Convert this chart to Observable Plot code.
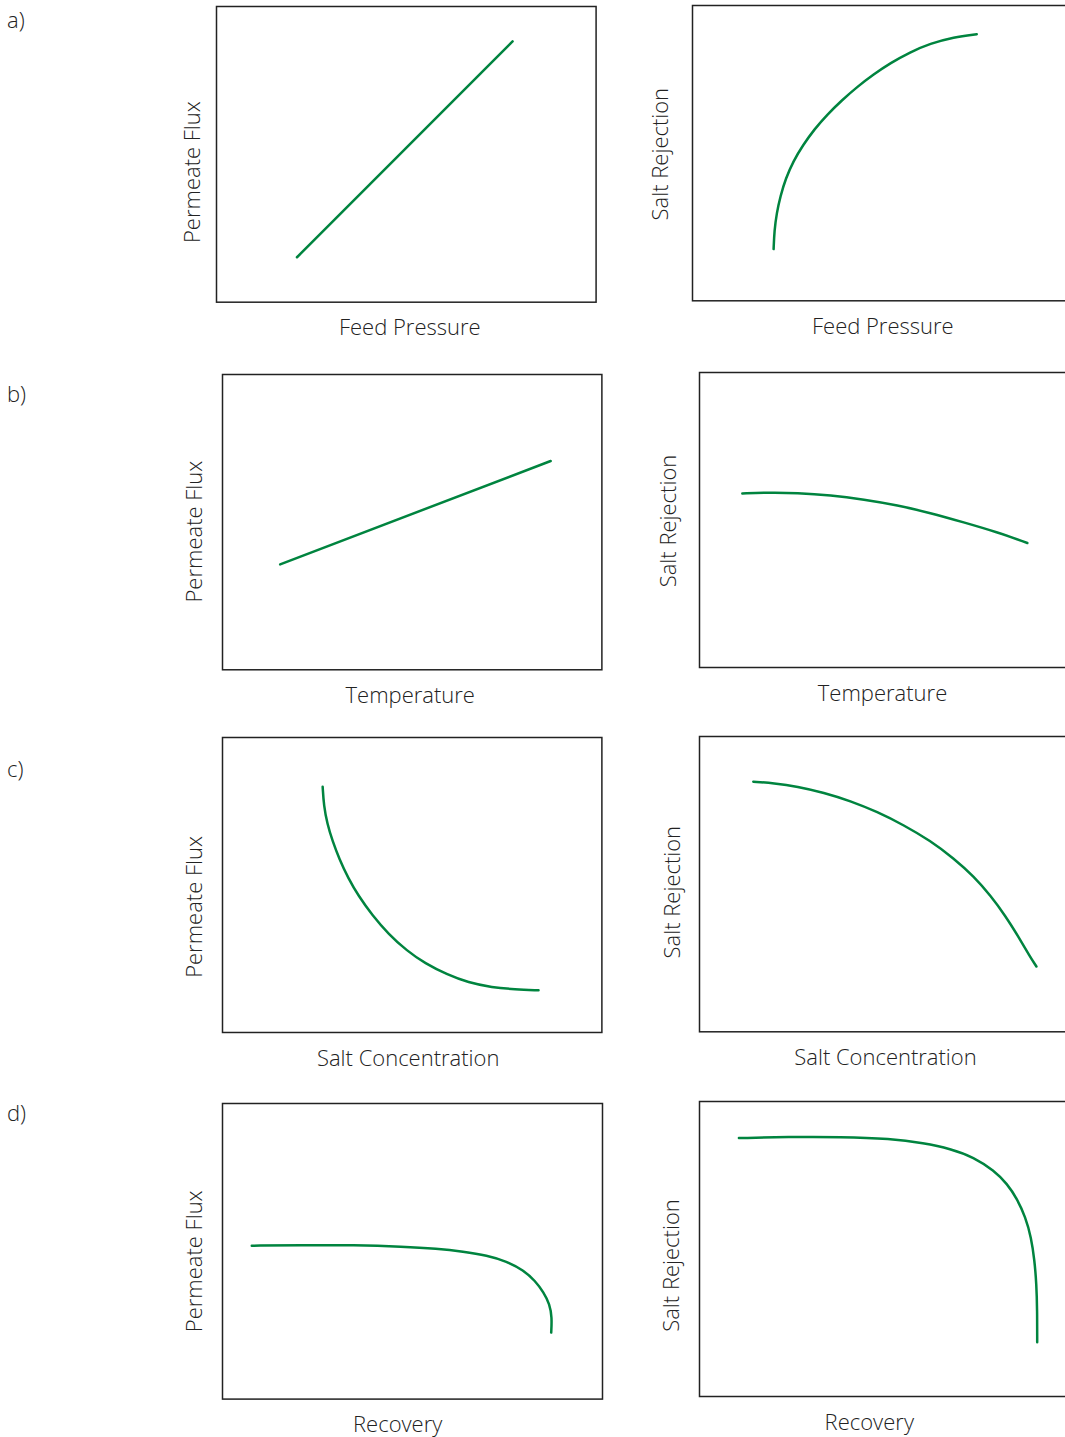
<!DOCTYPE html>
<html>
<head>
<meta charset="utf-8">
<script src="https://cdn.jsdelivr.net/npm/d3@7"></script>
<script src="https://cdn.jsdelivr.net/npm/@observablehq/plot@0.6"></script>
<style>
  html, body { margin: 0; padding: 0; background: #fff; overflow: hidden; }
  #wrap { position: relative; width: 1065px; height: 1437px; overflow: hidden; }
  .rowlabel { position: absolute; font-family: "Open Sans", sans-serif; font-weight: 300; font-size: 22px; color: #222; line-height: 1; }
  .panel { position: absolute; }
</style>
</head>
<body>
<div id="wrap"></div>
<script>
// Row labels
const rowLabels = ["a)", "b)", "c)", "d)"];

// Axis titles
const xTitles = ["Feed Pressure", "Temperature", "Salt Concentration", "Recovery"];
const yTitles = ["Permeate Flux", "Salt Rejection"];

// Curves (schematic units, 0–10 on both axes)
const pressureFluxX = [2.12, 7.80];
const pressureFluxY = [1.52, 8.82];

const pressureRejX = [2.14, 2.16, 2.22, 2.32, 2.46, 2.66, 2.92, 3.21, 3.55, 3.94, 4.34, 4.78, 5.22, 5.74, 6.27, 6.89, 7.50];
const pressureRejY = [1.75, 2.37, 2.96, 3.55, 4.14, 4.73, 5.28, 5.80, 6.30, 6.79, 7.24, 7.67, 8.05, 8.42, 8.71, 8.93, 9.03];

const tempFluxX = [1.52, 8.65];
const tempFluxY = [3.57, 7.07];

const tempRejX = [1.13, 1.79, 2.58, 3.46, 4.34, 5.22, 6.09, 6.97, 7.85, 8.65];
const tempRejY = [5.90, 5.93, 5.92, 5.84, 5.69, 5.50, 5.24, 4.92, 4.59, 4.22];

const saltFluxX = [2.64, 2.67, 2.76, 2.90, 3.08, 3.31, 3.59, 3.94, 4.38, 4.86, 5.34, 5.91, 6.48, 7.10, 7.71, 8.33];
const saltFluxY = [8.33, 7.70, 7.08, 6.49, 5.88, 5.24, 4.62, 3.99, 3.33, 2.77, 2.34, 1.97, 1.69, 1.53, 1.46, 1.43];

const saltRejX = [1.42, 1.96, 2.58, 3.28, 3.98, 4.69, 5.39, 6.09, 6.71, 7.24, 7.68, 8.07, 8.42, 8.71, 8.89];
const saltRejY = [8.47, 8.42, 8.31, 8.10, 7.82, 7.45, 7.00, 6.47, 5.87, 5.26, 4.61, 3.93, 3.21, 2.57, 2.21];

const recFluxX = [0.77, 2.13, 3.45, 4.76, 5.64, 6.34, 6.96, 7.48, 7.92, 8.23, 8.45, 8.61, 8.67, 8.65];
const recFluxY = [5.19, 5.21, 5.21, 5.16, 5.09, 4.99, 4.86, 4.66, 4.36, 4.00, 3.61, 3.21, 2.76, 2.25];

const recRejX = [1.04, 2.40, 3.72, 5.04, 5.92, 6.62, 7.24, 7.77, 8.12, 8.38, 8.60, 8.75, 8.84, 8.89, 8.91, 8.91];
const recRejY = [8.76, 8.80, 8.80, 8.74, 8.59, 8.40, 8.11, 7.66, 7.21, 6.70, 6.08, 5.40, 4.61, 3.82, 2.92, 1.84];

const zip = (xs, ys) => xs.map((x, i) => ({x, y: ys[i]}));

const GREEN = "#00843f";
const FONT = "'Open Sans', sans-serif";

// layout of each panel frame: left, top, width, height; label offsets
const panels = [
  {data: zip(pressureFluxX, pressureFluxY), xt: xTitles[0], yt: yTitles[0],
   fl: 215.7, ft: 6, fw: 379.6, fh: 295.7, xdx: 3.5, ydx: -23.7, ydy: 17.8},
  {data: zip(pressureRejX, pressureRejY), xt: xTitles[0], yt: yTitles[1],
   fl: 692.3, ft: 4.7, fw: 379, fh: 295.3, xdx: 0.8, ydx: -32, ydy: 1},
  {data: zip(tempFluxX, tempFluxY), xt: xTitles[1], yt: yTitles[0],
   fl: 222.3, ft: 374, fw: 379.4, fh: 295.3, xdx: -2, ydx: -28, ydy: 9.5},
  {data: zip(tempRejX, tempRejY), xt: xTitles[1], yt: yTitles[1],
   fl: 699, ft: 372.3, fw: 379, fh: 295, xdx: -6.5, ydx: -31, ydy: 1},
  {data: zip(saltFluxX, saltFluxY), xt: xTitles[2], yt: yTitles[0],
   fl: 222.3, ft: 737.3, fw: 379.4, fh: 295, xdx: -4, ydx: -28, ydy: 22},
  {data: zip(saltRejX, saltRejY), xt: xTitles[2], yt: yTitles[1],
   fl: 699, ft: 735.7, fw: 379, fh: 295.3, xdx: -3.5, ydx: -27, ydy: 8},
  {data: zip(recFluxX, recFluxY), xt: xTitles[3], yt: yTitles[0],
   fl: 222.3, ft: 1102.7, fw: 380, fh: 295.6, xdx: -14.8, ydx: -28, ydy: 10},
  {data: zip(recRejX, recRejY), xt: xTitles[3], yt: yTitles[1],
   fl: 699, ft: 1101, fw: 379, fh: 295, xdx: -19.7, ydx: -28, ydy: 16.5}
];

const wrap = document.getElementById("wrap");
const ML = 60, MT = 10, MR = 10, MB = 50;

panels.forEach(p => {
  const chart = Plot.plot({
    width: ML + p.fw + MR,
    height: MT + p.fh + MB,
    marginLeft: ML, marginTop: MT, marginRight: MR, marginBottom: MB,
    x: {domain: [0, 10], axis: null},
    y: {domain: [0, 10], axis: null},
    style: {background: "transparent", maxWidth: "none", fontFamily: FONT, overflow: "visible"},
    marks: [
      Plot.frame({stroke: "#222", strokeWidth: 1.5}),
      Plot.line(p.data, {x: "x", y: "y", stroke: GREEN, strokeWidth: 2.5, curve: "basis"}),
      Plot.text([p.xt], {frameAnchor: "bottom", lineAnchor: "top", textAnchor: "middle", dy: 17.5, dx: p.xdx,
        fontSize: 22, fontWeight: 300, fill: "#222", fontFamily: FONT}),
      Plot.text([p.yt], {frameAnchor: "left", textAnchor: "middle", lineAnchor: "middle", rotate: -90, dx: p.ydx, dy: p.ydy,
        fontSize: 22, fontWeight: 300, fill: "#222", fontFamily: FONT})
    ]
  });
  chart.classList.add("panel");
  chart.style.left = (p.fl - ML) + "px";
  chart.style.top = (p.ft - MT) + "px";
  wrap.appendChild(chart);
});

const rowBaselines = [27, 401, 776, 1120];
rowLabels.forEach((t, i) => {
  const d = document.createElement("div");
  d.className = "rowlabel";
  d.textContent = t;
  d.style.left = "7px";
  d.style.top = (rowBaselines[i] - 19) + "px";
  wrap.appendChild(d);
});
</script>
</body>
</html>
